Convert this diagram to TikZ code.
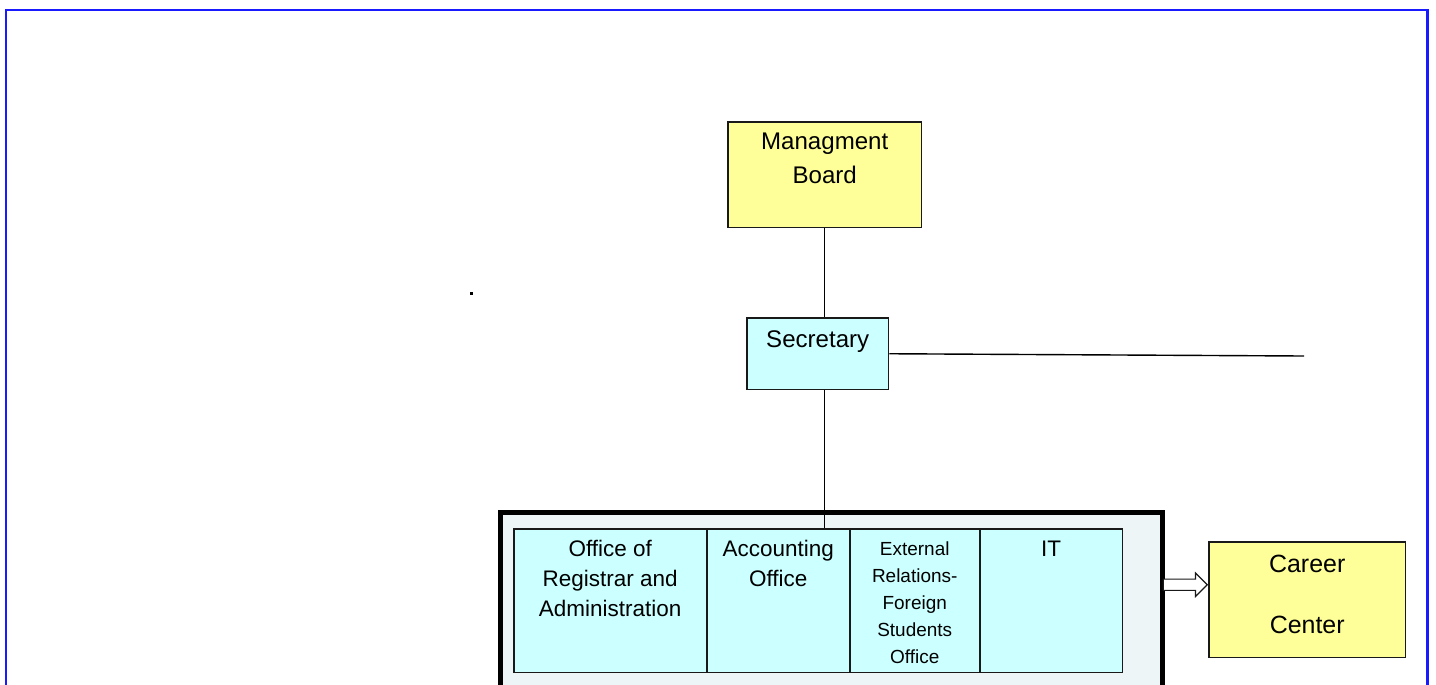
\documentclass[tikz,border=0pt]{standalone}
\usepackage{fontspec}
\setmainfont{Liberation Sans}
\usetikzlibrary{shapes.arrows}

\definecolor{boardyellow}{RGB}{255,255,153}
\definecolor{officecyan}{RGB}{204,255,255}
\definecolor{panelgrey}{RGB}{238,245,247}
\definecolor{frameblue}{RGB}{26,26,255}

\newdimen\pxu \pxu=0.569pt
% box of fixed size, text from the top
\newcommand{\boxtxt}[4]{\parbox[c][#2\pxu][t]{#1\pxu}{\centering\rule{0pt}{#3\pxu}#4}}

\begin{document}
\begin{tikzpicture}[x=0.02cm,y=-0.02cm,line width=0.8pt,
	every node/.style={anchor=north west,inner sep=0pt,draw=black!90,line width=0.85pt},
	board/.style={fill=boardyellow,font=\fontsize{13.7}{19.3}\selectfont},
	office/.style={fill=officecyan,font=\fontsize{12.8}{17.1}\selectfont}]

	\clip (0,0) rectangle (1436,684);
	\fill[white] (0,0) rectangle (1436,684);
	\draw[frameblue,line width=1.5pt] (6,740) -- (6,10) -- (1427.5,10) -- (1427.5,740);
	\fill (470,292) rectangle (473,295);

	\node[fill=panelgrey,draw=black,line width=2.85pt,minimum width=13.26cm,minimum height=4.6cm] (outer) at (497.5,509.5) {};

	\node[board] (mb) at (727,121) {\boxtxt{194}{106}{28}{Managment\\Board}};
	\node[office,font=\fontsize{13.7}{19.3}\selectfont] (sec) at (746,317) {\boxtxt{142}{72}{30}{Secretary}};

	\node[office] (reg) at (513,528) {\boxtxt{193}{144}{28}{Office of\\Registrar and\\Administration}};
	\node[office] (acc) at (706,528) {\boxtxt{143}{144}{28}{Accounting\\Office}};
	\node[office,font=\fontsize{10.8}{15.4}\selectfont] (ext) at (849,528) {\boxtxt{130}{144}{27}{External\\Relations-\\Foreign\\Students\\Office}};
	\node[office] (it) at (979,528) {\boxtxt{143}{144}{28}{IT}};

	\node[board,font=\fontsize{14.2}{34.7}\selectfont] (cc) at (1208,541) {\boxtxt{197}{116}{31}{Career\\Center}};
	\node[single arrow,fill=white,line width=0.7pt,minimum height=0.88cm,inner sep=2.85pt,
		single arrow head extend=3.4pt,anchor=tip] (arr) at ([yshift=0.3cm]cc.west) {};

	\coordinate (up) at (mb.south |- sec.north);
	\coordinate (down) at (mb.south |- sec.south);
	\coordinate (drop) at (mb.south |- acc.north);
	\coordinate (loose) at (1304,356);

	\foreach \from/\to in {mb.south/up,down/drop,sec.east/loose}
		\draw (\from) -- (\to);

\end{tikzpicture}
\end{document}
